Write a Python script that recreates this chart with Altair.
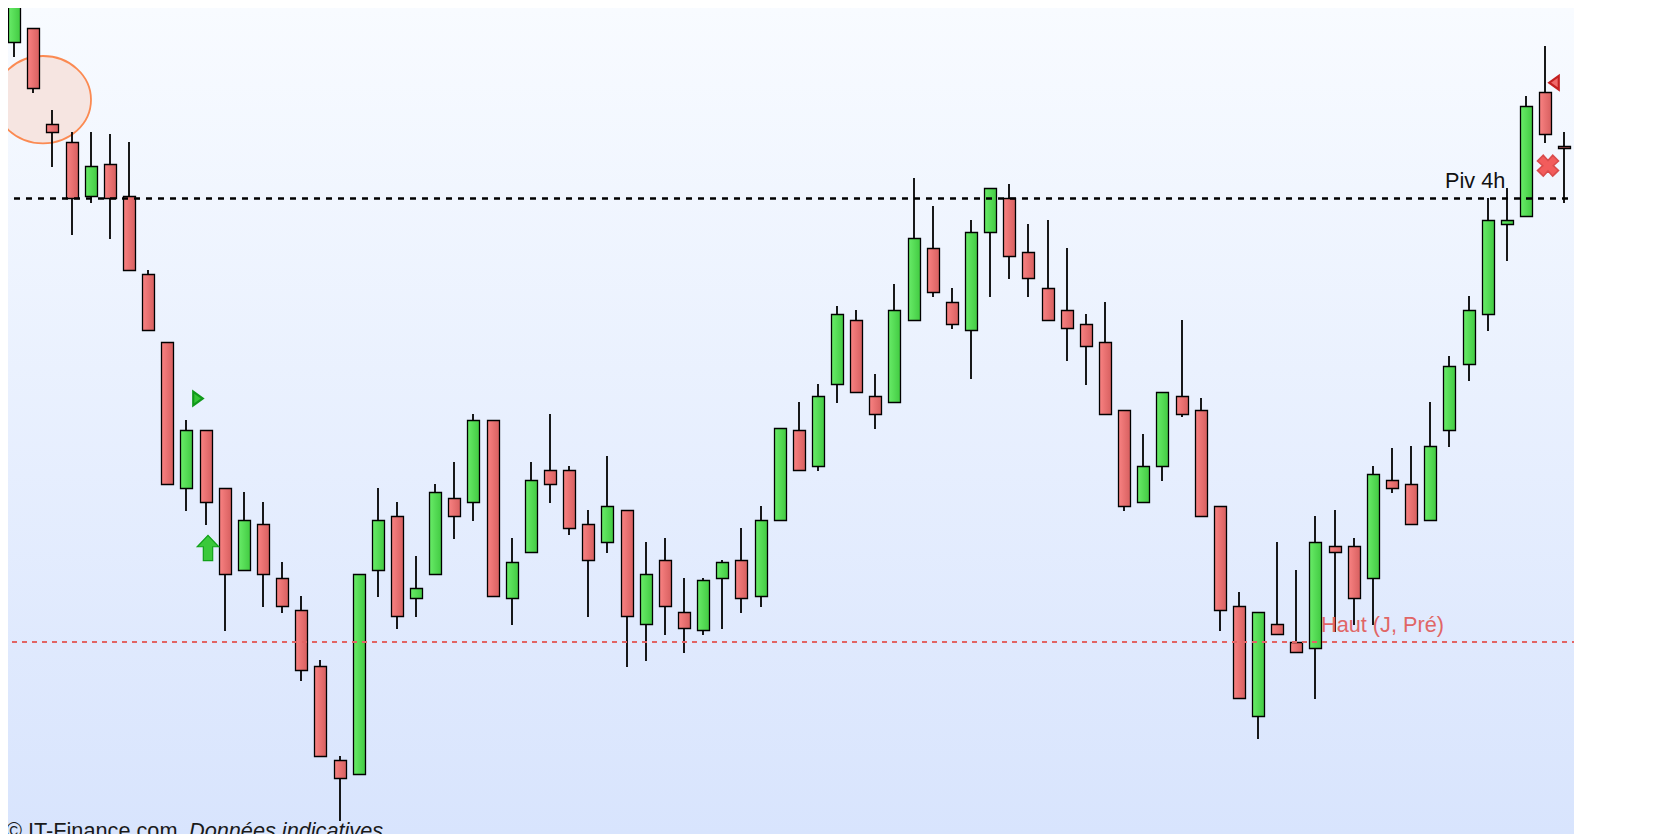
import altair as alt
import pandas as pd

# Candles: colour, body top, body bottom, high end, low end (levels, larger = lower price)
kind = list("GRRRGRRRRGRRGRRRRRGGRGGRGRGGRRRGRGRRGGRGGRGGRRGGRRGGRRRRRRRGGRRRRGRRGRRGRRGGGGGGRR")
body_top = [6,28,124,142,166,164,196,274,342,430,430,488,520,524,578,610,666,760,574,520,516,588,492,498,420,420,562,480,470,470,524,506,510,574,560,612,580,562,560,520,428,430,396,314,320,396,310,238,248,302,232,188,198,252,288,310,324,342,410,466,392,396,410,506,606,612,624,642,542,546,546,474,480,484,446,366,310,220,220,106,92,146]
body_bot = [42,88,132,198,196,198,270,330,484,488,502,574,570,574,606,670,756,778,774,570,616,598,574,516,502,596,598,552,484,528,560,542,616,624,606,628,630,578,598,596,520,470,466,384,392,414,402,320,292,324,330,232,256,278,320,328,346,414,506,502,466,414,516,610,698,716,634,652,648,552,598,578,488,524,520,430,364,314,224,216,134,148]
high = [-10,28,110,132,132,134,142,270,342,420,430,488,492,502,562,596,660,756,574,488,502,556,484,462,414,420,538,462,414,466,510,456,510,542,538,578,578,560,528,506,428,402,384,306,310,374,284,178,206,288,220,188,184,224,220,248,314,302,410,434,392,320,398,506,592,612,542,570,516,510,538,466,448,446,402,356,296,198,188,96,46,132]
low = [57,93,167,235,203,239,270,330,484,511,525,631,570,607,613,681,756,821,774,597,629,617,574,539,521,596,625,552,503,535,617,553,667,661,635,653,635,629,613,607,520,470,471,403,392,429,402,320,297,329,379,297,279,297,320,361,385,414,511,502,481,417,516,631,698,739,634,652,699,632,625,625,493,524,520,447,381,331,261,216,143,203]

pivot_level = 198.5
prev_high_level = 642
line_x = [-0.6375, 81.2, 81.5]

text_x = [74.75, 68.29, -0.4285, 9.12]
text_y = [188.3, 632.3, 838.4, 838.4]
text_labels = ["Piv 4h", "Haut (J, Pré)", "© IT-Finance.com", "Données indicatives"]

marker_x = [9.59, 10.11, 80.48, 80.13]
marker_y = [398.5, 548, 82.7, 165.7]

ellipse_x = [1.49]
ellipse_y = [99.7]

df = pd.DataFrame({"i": range(len(kind)), "kind": kind,
                   "top": [v + 0.5 for v in body_top], "bot": [v + 0.5 for v in body_bot],
                   "high": high, "low": low})

X = alt.Scale(domain=[-0.324, 81.511], nice=False, zero=False, round=True, padding=0)
Y = alt.Scale(domain=[834, 8], nice=False, zero=False, padding=0)
x_enc = alt.X("i:Q", scale=X, axis=None)
y_enc = alt.Y("top:Q", scale=Y, axis=None)


def grad(a, b):
    return alt.Gradient(gradient="linear", x1=0, y1=0, x2=1, y2=0,
                        stops=[alt.GradientStop(offset=0, color=a), alt.GradientStop(offset=1, color=b)])


W, H = 1566, 826

bg = alt.Chart(pd.DataFrame({"a": [0]})).mark_rect(
    fill=alt.Gradient(gradient="linear", x1=0, y1=0, x2=0, y2=1,
                      stops=[alt.GradientStop(offset=0, color="#f8fbff"),
                             alt.GradientStop(offset=1, color="#d8e4fd")])
).encode(x=alt.value(0), x2=alt.value(W), y=alt.value(0), y2=alt.value(H))

ell = alt.Chart(pd.DataFrame({"i": ellipse_x, "top": ellipse_y})).mark_point(
    shape="M-1,0A1,0.91,0,1,1,1,0A1,0.91,0,1,1,-1,0Z", size=9216, filled=True,
    fill="#f6e5e1", fillOpacity=1, stroke="#fb8a52", strokeWidth=1.8, strokeOpacity=1, clip=True
).encode(x=x_enc, y=y_enc)

wicks = alt.Chart(df).mark_rule(color="#000000", strokeWidth=1.8, clip=True).encode(
    x=x_enc, y=alt.Y("high:Q", scale=Y, axis=None), y2="low:Q")


def bodies(k, a, b):
    return alt.Chart(df[df.kind == k]).mark_bar(
        size=12, stroke="#000000", strokeWidth=1.3, fill=grad(a, b), clip=True, xOffset=0.5
    ).encode(x=x_enc, y=y_enc, y2="bot:Q")


red = bodies("R", "#f98282", "#d75f5f")
green = bodies("G", "#68ec68", "#42ca42")


def hline(level, x0, x1, color, width, dash, opacity=1.0):
    d = pd.DataFrame({"i": [x0], "i2": [x1], "top": [level]})
    return alt.Chart(d).mark_rule(color=color, strokeWidth=width, strokeDash=dash, opacity=opacity, clip=True).encode(
        x=x_enc, x2="i2:Q", y=y_enc)


pivot = hline(pivot_level, line_x[0], line_x[1], "#000000", 2.6, [6, 6])
prev_high = hline(prev_high_level, line_x[0], line_x[2], "#e26464", 1.8, [5, 5])


def label(n, color, opacity=1.0, style="normal"):
    d = pd.DataFrame({"i": [text_x[n]], "top": [text_y[n]], "t": [text_labels[n]]})
    return alt.Chart(d).mark_text(align="left", baseline="alphabetic", font="Liberation Sans", fontSize=21.7,
                                  color=color, opacity=opacity, fontStyle=style).encode(
        x=x_enc, y=y_enc, text="t:N")


def marker(n, path, size, fill, stroke, sw=1.5):
    d = pd.DataFrame({"i": [marker_x[n]], "top": [marker_y[n]]})
    return alt.Chart(d).mark_point(shape=path, size=size, filled=True, fill=fill, fillOpacity=1,
                                   stroke=stroke, strokeWidth=sw, strokeOpacity=1).encode(x=x_enc, y=y_enc)


layers = [
    bg, ell, wicks, red, green, prev_high, pivot,
    label(0, "#111111"), label(1, "#e06666"), label(2, "#1a1a1a"), label(3, "#1a1a1a", style="italic"),
    marker(0, "M-0.7,-1L0.7,0L-0.7,1Z", 185, "#35c435", "#10991a", 2.2),
    marker(1, "M0,-1L0.85,-0.1L0.37,-0.1L0.37,1L-0.37,1L-0.37,-0.1L-0.85,-0.1Z", 640, "#3ac93a", "#10a018", 1.2),
    marker(2, "M0.7,-1L-0.7,0L0.7,1Z", 185, "#f06868", "#c42020", 2.2),
    marker(3, "M-0.45,-1L0,-0.5L0.45,-1L1,-0.45L0.5,0L1,0.45L0.45,1L0,0.5L-0.45,1L-1,0.45L-0.5,0L-1,-0.45Z", 440,
           "#f25c5c", "#d94c4c", 1.6),
]

chart = alt.layer(*layers).properties(
    width=W, height=H, padding=0, background="#ffffff",
    autosize=alt.AutoSizeParams(type="none")
).configure_view(stroke=None)

chart.save("out.html", embed_options={"renderer": "svg", "actions": False})
